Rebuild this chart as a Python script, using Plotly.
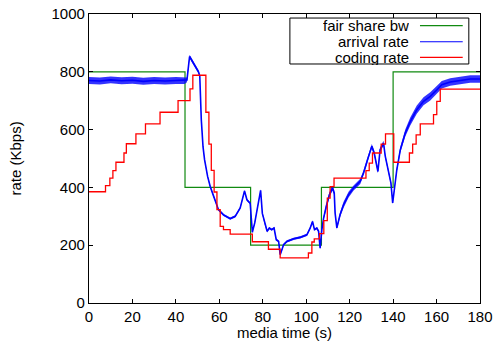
import numpy as np
import plotly.graph_objects as go

# Fair share bandwidth (Kbps), piecewise constant
fair_t = [0, 44.2, 74.4, 107, 140, 180]
fair_bw = [800, 400, 200, 400, 800, 800]

# Measured arrival rate (Kbps)
arrival_t = [0, 5, 10, 15, 20, 25, 30, 35, 40, 44, 45.1, 46.3, 48, 50.4, 51.0,
             51.7, 52.5, 53.2, 54.6, 55.8, 57.4, 59.6, 61.9, 65, 67.3, 69.6,
             71.6, 72.7, 74.2, 75.2, 76.3, 77.6, 79.0, 79.8, 80.7, 82.0, 83.0,
             84.1, 85.2, 86.2, 87.3, 88.0, 88.8, 89.6, 91.1, 94.2, 97.2, 100.3,
             101.8, 102.9, 103.8, 104.9, 105.7, 106.4, 107.2, 108.0, 109.2,
             110.7, 112.1, 112.9, 113.3, 114.1, 115.6, 117.2, 119.5, 121.8,
             124.9, 126.4, 128, 129.5, 130.2, 131.3, 133, 134, 135.6, 136.4,
             137.9, 139, 139.8, 140.5, 141.7, 143.3, 145.6, 147.9, 150.9, 154,
             157.1, 160.2, 162.4, 166.3, 170.9, 175.5, 180]
arrival = [770, 768, 772, 769, 771, 767, 770, 768, 770, 770, 772, 853, 830, 800,
           785, 634, 540, 496, 438, 403, 369, 323, 305, 292, 300, 329, 388, 357,
           345, 245, 277, 330, 390, 310, 280, 248, 259, 254, 259, 219, 213, 167,
           184, 202, 213, 222, 227, 236, 259, 282, 254, 259, 248, 190, 254, 294,
           334, 375, 398, 381, 311, 260, 306, 340, 375, 398, 421, 450, 490, 530,
           542, 519, 455, 530, 553, 507, 450, 415, 346, 392, 461, 530, 588, 628,
           669, 698, 715, 738, 755, 765, 770, 775, 775]
# Half-width of the short-term jitter around the arrival rate (Kbps)
arrival_jitter = [12, 12, 12, 12, 12, 12, 12, 12, 12, 12, 8, 6, 6, 6,
                  5, 4, 4, 4, 4, 4, 4, 4, 4, 4, 4, 4, 4, 4,
                  4, 4, 4, 4, 4, 4, 4, 4, 4, 4, 4, 4, 4, 4,
                  4, 4, 4, 4, 4, 4, 4, 4, 4, 4, 4, 4, 5, 6,
                  8, 9, 9, 8, 6, 6, 8, 10, 10, 9, 9, 9, 9, 9,
                  8, 8, 6, 8, 8, 6, 6, 6, 5, 6, 8, 10, 12, 14,
                  14, 14, 14, 14, 13, 13, 13, 13, 13]

# Coding rate (Kbps), changes in steps
coding_t = [0, 7.6, 9.6, 11, 12.4, 16.1, 17.2, 21.6, 26, 32.7, 41, 46.5, 47.8,
            53.8, 55.2, 56.3, 57.6, 58.9, 60.4, 61.9, 65, 75.2, 82.6, 88, 101,
            102.6, 103.7, 106.1, 108.1, 109.7, 111, 112.8, 127.5, 129, 130.5,
            134.5, 136.5, 140.3, 147.5, 149, 150.6, 152.5, 158.6, 160.1, 161.7,
            180]
coding = [385, 406, 432, 458, 487, 519, 551, 585, 620, 660, 700, 741, 788, 660,
          550, 459, 384, 323, 265, 254, 238, 212, 186, 156, 173, 211, 222, 240,
          285, 363, 403, 432, 458, 484, 519, 550, 585, 487, 519, 550, 582, 620,
          652, 698, 740, 740]

x_ticks = [0, 20, 40, 60, 80, 100, 120, 140, 160, 180]
y_ticks = [0, 200, 400, 600, 800, 1000]

GREEN, BLUE, RED = "#118a11", "#0000ff", "#ff0000"
FONT = "Liberation Sans"

arr = np.array(arrival, dtype=float)
jit = np.array(arrival_jitter, dtype=float)

fig = go.Figure()
fig.add_trace(go.Scatter(x=fair_t, y=fair_bw, mode="lines", line_shape="hv",
                         line=dict(color=GREEN, width=1.2),
                         name="fair share bw", showlegend=False))
# jitter envelope of the arrival rate
fig.add_trace(go.Scatter(x=arrival_t + arrival_t[::-1],
                         y=list(arr + jit) + list((arr - jit)[::-1]),
                         mode="lines", fill="toself", fillcolor="rgba(0,0,255,0.8)",
                         line=dict(width=0), hoverinfo="skip", showlegend=False))
fig.add_trace(go.Scatter(x=arrival_t, y=arrival, mode="lines",
                         line=dict(color=BLUE, width=1.6),
                         name="arrival rate", showlegend=False))
fig.add_trace(go.Scatter(x=coding_t, y=coding, mode="lines", line_shape="hv",
                         line=dict(color=RED, width=1.3),
                         name="coding rate", showlegend=False))

axis_common = dict(showline=True, linecolor="black", linewidth=1.2, mirror="ticks",
                   ticks="inside", ticklen=4, tickwidth=1, tickcolor="black",
                   showgrid=False, zeroline=False, automargin=False,
                   tickfont=dict(family=FONT, size=15, color="black"))

fig.update_xaxes(range=[0, 180], tickvals=x_ticks, **axis_common)
fig.update_yaxes(range=[0, 1000], tickvals=y_ticks, **axis_common)

annotations = [
    dict(text="media time (s)", x=0.5, y=-0.1, xref="paper", yref="paper",
         xanchor="center", yanchor="middle", showarrow=False, yshift=-1,
         font=dict(family=FONT, size=15, color="black")),
    dict(text="rate (Kbps)", x=0, y=0.5, xref="paper", yref="paper",
         xanchor="center", yanchor="middle", showarrow=False, textangle=-90,
         xshift=-74, font=dict(family=FONT, size=15, color="black")),
]

# Legend box in gnuplot style: label on the left, line sample on the right
shapes = [dict(type="rect", xref="paper", yref="paper", x0=0.5138, x1=0.9714,
               y0=0.827, y1=0.986, line=dict(color="black", width=1),
               fillcolor="white", layer="above")]
legend_rows = [("fair share bw", GREEN, 0.9595),
               ("arrival rate", BLUE, 0.904),
               ("coding rate", RED, 0.850)]
for label, color, ry in legend_rows:
    annotations.append(dict(text=label, x=0.8228, y=ry, xref="paper", yref="paper",
                            xanchor="right", yanchor="middle", showarrow=False,
                            height=15, valign="middle",
                            font=dict(family=FONT, size=15, color="black")))
    shapes.append(dict(type="line", xref="paper", yref="paper", x0=0.8465,
                       x1=0.9558, y0=ry, y1=ry, line=dict(color=color, width=1.2),
                       layer="above"))

fig.update_layout(width=498, height=352,
                  margin=dict(l=89, r=18, t=14, b=49, autoexpand=False),
                  plot_bgcolor="white", paper_bgcolor="white",
                  shapes=shapes, annotations=annotations, showlegend=False)

fig.write_html("out.html")
